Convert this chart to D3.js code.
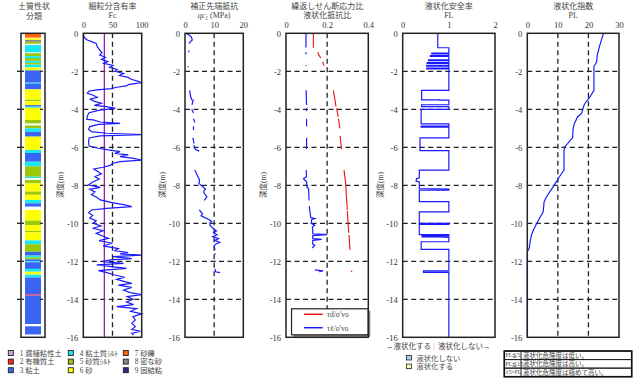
<!DOCTYPE html>
<html><head><meta charset="utf-8">
<script src="https://cdn.jsdelivr.net/npm/d3@7"></script>
<style>body{margin:0;background:#fff}</style>
</head><body><svg id="c" width="640" height="384"></svg>
<script>
// ---------------- DATA ----------------
const depthTicks = [0,2,4,6,8,10,12,14,16];
const depthGrid = [2,4,6,8,10,12,14];

// soil layers: [top, bottom, code]
const soilLayers = [
 [0,0.23,7],[0.27,0.35,6],[0.35,0.45,8],[0.45,0.55,5],[0.62,1.0,4],[1.05,1.2,5],[1.2,1.3,4],[1.3,1.45,5],
 [1.45,1.55,4],[1.55,1.65,5],[1.65,1.8,4],[1.8,1.95,6],[1.95,2.6,3],[2.6,2.65,4],[2.65,2.95,3],[2.95,3.5,6],
 [3.5,3.58,5],[3.58,3.78,6],[3.78,3.86,3],[3.86,3.92,4],[3.92,4.56,6],[4.56,4.74,5],[4.85,5.0,5],[5.0,5.18,4],
 [5.18,5.44,3],[5.44,6.14,6],[6.14,6.3,4],[6.3,6.76,3],[6.76,7.0,4],[7.0,7.55,5],[7.55,7.62,4],[7.72,7.9,5],
 [7.9,8.33,6],[8.33,8.5,5],[8.5,8.77,6],[8.77,8.95,4],[8.95,9.12,3],[9.3,9.86,6],[9.86,10.1,5],[10.1,10.4,6],
 [10.4,10.48,5],[10.48,10.9,6],[10.9,11.1,4],[11.1,11.5,5],[11.5,11.7,3],[11.7,11.8,4],[11.8,11.9,5],[11.9,12.0,3],
 [12.0,12.05,4],[12.05,12.4,3],[12.4,12.55,4],[12.55,12.7,6],[12.7,12.85,4],[12.85,13.74,3],[13.74,13.8,2],
 [13.8,15.3,3],[15.42,15.85,3]
];
const soilCodes = [1,2,3,4,5,6,7,8,9];
const soilNames = ["1 腐植粘性土","2 有機質土","3 粘土","4 粘土質ｼﾙﾄ","5 砂質ｼﾙﾄ","6 砂","7 砂礫","8 密な砂","9 固結粘"];
const soilColors = ["#c9a6e6","#ff2020","#3a64f2","#18e8f0","#9cc80a","#ffff00","#ff6410","#888888","#2a2a8a"];

// Fc: [depth, Fc]
const fcData = [
 [0,0],[0.14,1],[0.26,3],[0.35,7],[0.44,14],[0.53,22],[0.7,24],[0.88,28],[1.02,32],[1.14,28],[1.26,38],[1.37,31],
 [1.49,42],[1.58,35],[1.69,51],[1.79,45],[1.9,58],[2.0,54],[2.11,69],[2.22,62],[2.32,77],[2.42,82],[2.53,94],[2.6,99],
 [2.7,77],[2.77,74],[2.84,57],[2.91,48],[2.98,23],[3.05,9],[3.16,7],[3.26,17],[3.37,24],[3.47,12],[3.58,19],[3.68,31],
 [3.79,19],[3.86,39],[3.95,55],[4.04,28],[4.18,10],[4.35,7],[4.53,6],[4.56,17],[4.67,29],[4.74,63],[4.79,26],[4.91,11],
 [5.05,9],[5.18,14],[5.26,40],[5.33,100],[5.4,29],[5.51,10],[5.7,9],[5.93,10],[6.05,26],[6.14,43],[6.23,63],[6.32,54],
 [6.4,77],[6.49,63],[6.58,86],[6.67,100],[6.75,63],[6.84,51],[6.95,46],[7.05,34],[7.14,18],[7.26,24],[7.4,31],[7.54,20],
 [7.68,27],[7.83,16],[7.98,9],[8.11,29],[8.21,11],[8.35,20],[8.49,14],[8.63,23],[8.77,29],[8.91,49],[9.02,69],[9.12,83],
 [9.21,40],[9.3,14],[9.44,9],[9.58,16],[9.72,11],[9.86,22],[10.0,17],[10.14,30],[10.26,16],[10.39,34],[10.53,22],[10.67,33],
 [10.79,43],[10.91,27],[11.05,50],[11.19,34],[11.33,60],[11.44,54],[11.54,77],[11.61,63],[11.68,100],[11.75,51],[11.86,83],
 [11.93,46],[12.02,33],[12.11,69],[12.19,23],[12.28,49],[12.37,74],[12.49,26],[12.6,40],[12.72,54],[12.84,71],[12.95,57],
 [13.07,71],[13.16,83],[13.25,60],[13.37,83],[13.51,69],[13.65,80],[13.75,100],[13.86,75],[14.0,85],[14.14,74],[14.28,86],
 [14.39,57],[14.49,91],[14.63,81],[14.77,100],[14.91,85],[15.09,89],[15.26,83],[15.44,89],[15.58,83],[15.68,98],[15.79,83],[15.88,86]
];
const fcThreshold = 36;

// qc1 segments: [depth, qc1 (MPa)]
const qcSegments = [
 [[0,0.3],[0.1,1.5],[0.2,2.2],[0.35,2.5],[0.45,1.8],[0.55,1.4]],
 [[0.9,1.3],[1.0,1.3]],
 [[1.72,1.1],[1.78,1.1]],
 [[3.0,1.6],[3.3,1.9],[3.5,2.3],[3.52,2.8],[3.77,2.4]],
 [[4.0,2.3],[4.2,2.9]],
 [[4.5,2.9],[4.7,3.4]],
 [[4.9,2.9],[5.1,2.9]],
 [[5.5,2.7],[5.8,3.1]],
 [[5.9,3.1],[6.1,3.5],[6.2,4.9]],
 [[7.2,3.4],[7.4,4.0],[7.6,4.6],[7.7,5.0],[7.9,4.8],[8.0,5.5],[8.1,6.3],[8.2,7.0],[8.3,6.5],[8.4,6.5],[8.6,7.5],[8.8,6.6]],
 [[9.3,4.9],[9.5,6.0],[9.6,5.5],[9.7,6.8],[9.8,8.2],[9.9,9.1],[10.0,8.5],[10.1,8.6],[10.25,9.5],[10.4,10.8],[10.5,9.8],
  [10.6,11.0],[10.7,9.5],[10.8,11.5],[10.9,10.2],[11.0,11.9],[11.1,10.5],[11.2,10.0],[11.4,10.3]],
 [[11.58,10.3],[11.65,10.3]],
 [[11.98,10.3],[12.05,10.3]],
 [[12.4,10.3],[12.55,10.5],[12.6,12.0]]
];

// stress ratios: [depth, ratio]
const tdSegments = [
 [[0,0.133],[0.76,0.133]],
 [[1.0,0.154],[1.15,0.16],[1.3,0.169]],
 [[1.5,0.178],[1.7,0.185]],
 [[3.0,0.23],[3.5,0.238],[3.86,0.243]],
 [[3.95,0.246],[4.4,0.254]],
 [[4.5,0.255],[5.0,0.262]],
 [[5.4,0.263],[6.1,0.27]],
 [[7.2,0.282],[7.9,0.29],[8.5,0.293],[9.3,0.298]],
 [[9.35,0.298],[10.2,0.303],[10.5,0.305]],
 [[10.6,0.306],[11.4,0.311]],
 [[12.5,0.318],[12.56,0.32]]
];
const tlSegments = [
 [[0,0.097],[0.75,0.097]],
 [[1.0,0.097],[1.1,0.097]],
 [[1.68,0.097],[1.72,0.097]],
 [[3.0,0.098],[3.5,0.099],[3.77,0.1]],
 [[3.95,0.1],[4.1,0.1]],
 [[4.5,0.1],[4.9,0.1]],
 [[5.5,0.1],[6.1,0.1]],
 [[7.2,0.098],[7.55,0.1],[7.65,0.085],[7.72,0.09],[7.8,0.1],[8.1,0.102],[8.2,0.11],[8.8,0.112]],
 [[9.1,0.113],[9.5,0.118],[9.7,0.12],[9.75,0.14],[9.8,0.125],[10.0,0.122],[10.1,0.14],[10.2,0.128],[10.35,0.13],
  [10.55,0.13],[10.6,0.2],[10.65,0.13],[10.8,0.13],[10.85,0.173],[10.9,0.13],[11.1,0.13],[11.15,0.14],[11.3,0.128]],
 [[12.45,0.14],[12.5,0.18],[12.55,0.16]]
];

// FL: [depth, FL]
const flData = [
 [0,0.76],[0.76,0.76],[0.76,1],
 [1.04,1],[1.04,0.63],[1.08,0.63],[1.08,1],[1.18,1],[1.18,0.6],[1.22,0.6],[1.22,1],
 [1.4,1],[1.4,0.56],[1.44,0.56],[1.44,1],[1.54,1],[1.54,0.53],[1.58,0.53],[1.58,1],
 [1.69,1],[1.69,0.52],[1.73,0.52],[1.73,1],[1.83,1],[1.83,0.52],[1.87,0.52],[1.87,1],
 [3.0,1],[3.0,0.41],[3.5,0.41],[3.5,0.8],[3.52,0.8],[3.52,1],
 [3.76,1],[3.76,0.41],[3.86,0.41],[3.86,1],
 [4.0,1],[4.0,0.4],[4.77,0.4],[4.77,1],[4.88,1],[4.88,0.4],[4.94,0.4],[4.94,1],
 [5.5,1],[5.5,0.375],[6.18,0.375],[6.18,1],
 [7.2,1],[7.2,0.36],[7.6,0.36],[7.65,0.3],[7.78,0.29],[7.82,0.36],[8.18,0.36],[8.2,1],
 [8.26,1],[8.26,0.36],[8.86,0.36],[8.86,1],
 [9.4,1],[9.4,0.36],[10.0,0.36],[10.0,1],[10.06,1],[10.06,0.36],[10.6,0.36],[10.6,1],
 [10.66,1],[10.66,0.42],[10.72,0.42],[10.72,0.8],[10.74,1],
 [10.97,1],[10.97,0.4],[11.37,0.4],[11.37,1],
 [12.5,1],[12.5,0.45],[12.58,0.45],[12.58,1],[16,1]
];

// PL: [depth, PL]
const plData = [
 [0,24.9],[0.7,23.6],[1.14,22.9],[1.5,22.7],[1.75,21.8],[3.0,21.8],[3.35,20.5],[3.68,18.9],[3.77,18.6],[4.0,18.1],
 [4.21,17.8],[4.39,16.5],[4.74,15.4],[5.0,15.0],[5.5,14.8],[5.97,12.3],[6.18,12.0],[7.2,12.0],[7.55,10.5],[8.07,8.5],
 [8.6,6.3],[8.86,5.5],[9.39,5.2],[10.0,3.1],[10.35,2.0],[10.6,1.4],[10.97,0.9],[11.3,0.65],[11.5,0],[16,0]
];

const plTableLeft = ["PL≦5","PL≦15","15>PL"];
const plTableRight = ["液状化危険度は低い。","液状化危険度は高い。","液状化危険度は極めて高い。"];

// ---------------- DRAW ----------------
const svg = d3.select("#c");
const JP = "'Liberation Serif','Noto Sans CJK JP',serif";
const NUM = "'Liberation Serif','DejaVu Serif',serif";
const TXT = "#444";
const y = d3.scaleLinear().domain([0,16]).range([33.3,337.3]);
const depthFmt = v => v===0 ? "0" : "-"+v;

const panels = [
 {x0:83.3,x1:141.7,dom:[0,100],ticks:[0,50,100],grid:[50],t1:"細粒分含有率",t2:"Fc"},
 {x0:185,x1:243.3,dom:[0,20],ticks:[0,10,20],grid:[10],t1:"補正先端抵抗",t2:null},
 {x0:286,x1:368.3,dom:[0,0.4],ticks:[0,0.2,0.4],grid:[0.2],t1:"繰返しせん断応力比",t2:"液状化抵抗比",t2jp:true},
 {x0:402.7,x1:495,dom:[0,2],ticks:[0,1,2],grid:[],t1:"液状化安全率",t2:"FL"},
 {x0:527.3,x1:619,dom:[0,30],ticks:[0,10,20,30],grid:[10,20],t1:"液状化指数",t2:"PL",noYLabel:true}
];

panels.forEach((p,i)=>{
  p.x = d3.scaleLinear().domain(p.dom).range([p.x0,p.x1]);
  const g = svg.append("g");
  p.g = g;
  g.selectAll(".hg").data(depthGrid).join("line")
    .attr("x1",p.x0).attr("x2",p.x1).attr("y1",d=>y(d)).attr("y2",d=>y(d))
    .attr("stroke","#222").attr("stroke-width",1.3).attr("stroke-dasharray","5,3.5");
  g.selectAll(".vg").data(p.grid).join("line")
    .attr("x1",d=>p.x(d)).attr("x2",d=>p.x(d)).attr("y1",y(0)).attr("y2",y(16))
    .attr("stroke","#222").attr("stroke-width",1.3).attr("stroke-dasharray","5,3.5");
  const ax = g.append("g").attr("transform",`translate(0,${y(0)})`)
    .call(d3.axisTop(p.x).tickValues(p.ticks).tickSize(0).tickPadding(5.8).tickFormat(d=>String(d)));
  ax.select(".domain").remove();
  ax.selectAll("text").attr("font-family",NUM).attr("font-size",8.5).attr("fill","#333");
  const ay = g.append("g").attr("transform",`translate(${p.x0},0)`)
    .call(d3.axisLeft(y).tickValues(depthTicks).tickSize(0).tickPadding(5).tickFormat(depthFmt));
  ay.select(".domain").remove();
  ay.selectAll("text").attr("font-family",NUM).attr("font-size",8.5).attr("fill","#333");
  const cx = (p.x0+p.x1)/2;
  g.append("text").attr("x",cx).attr("y",9).attr("text-anchor","middle")
    .attr("font-family",JP).attr("font-size",8).attr("fill",TXT).text(p.t1);
  if(p.t2){
    g.append("text").attr("x",cx).attr("y",18).attr("text-anchor","middle")
      .attr("font-family",p.t2jp?JP:NUM).attr("font-size",8).attr("fill",TXT).text(p.t2);
  }
  if(!p.noYLabel){
    g.append("text").attr("transform",`translate(${p.x0-20},185) rotate(-90)`)
      .attr("text-anchor","middle").attr("font-family",JP).attr("font-size",7.5).attr("fill",TXT).text("深度(m)");
  }
});

// qc1 subtitle
{
  const p = panels[1], cx=(p.x0+p.x1)/2;
  const t = svg.append("text").attr("x",cx).attr("y",18).attr("text-anchor","middle")
    .attr("font-family",NUM).attr("font-size",8).attr("fill",TXT);
  t.append("tspan").attr("font-style","italic").text("qc");
  t.append("tspan").attr("font-size",5.5).attr("dy",1.5).attr("font-style","italic").text("1");
  t.append("tspan").attr("dy",-1.5).text(" (MPa)");
}

// Fc
{
  const p = panels[0];
  p.g.append("line").attr("x1",p.x(fcThreshold)).attr("x2",p.x(fcThreshold))
    .attr("y1",y(0)).attr("y2",y(16)).attr("stroke","#8a10a0").attr("stroke-width",1.2);
  p.g.append("path").datum(fcData)
    .attr("d",d3.line().x(d=>p.x(d[1])).y(d=>y(d[0])))
    .attr("fill","none").attr("stroke","#1a1aff").attr("stroke-width",1.2);
}
// qc
{
  const p = panels[1];
  p.g.selectAll(".qc").data(qcSegments).join("path")
    .attr("d",d3.line().x(d=>p.x(d[1])).y(d=>y(d[0])))
    .attr("fill","none").attr("stroke","#1a1aff").attr("stroke-width",1.2);
}
// ratios
{
  const p = panels[2];
  p.g.selectAll(".td").data(tdSegments).join("path")
    .attr("d",d3.line().x(d=>p.x(d[1])).y(d=>y(d[0])))
    .attr("fill","none").attr("stroke","#ee1010").attr("stroke-width",1.1);
  p.g.selectAll(".tl").data(tlSegments).join("path")
    .attr("d",d3.line().x(d=>p.x(d[1])).y(d=>y(d[0])))
    .attr("fill","none").attr("stroke","#1a1aff").attr("stroke-width",1.2);
  const lx0 = p.x(0.027), lx1 = p.x(0.4), ly0 = y(14.5), ly1 = y(15.87);
  p.g.append("rect").attr("x",lx0+2).attr("y",ly0+2).attr("width",lx1-lx0).attr("height",ly1-ly0).attr("fill","#888");
  p.g.append("rect").attr("x",lx0).attr("y",ly0).attr("width",lx1-lx0).attr("height",ly1-ly0)
    .attr("fill","#fff").attr("stroke","#222").attr("stroke-width",1.2);
  const items = [["#ee1010","τd/σ'vo"],["#1a1aff","τℓ/σ'vo"]];
  items.forEach((it,k)=>{
    const yy = ly0 + 5.5 + k*13.4;
    p.g.append("line").attr("x1",304).attr("x2",322.7).attr("y1",yy).attr("y2",yy).attr("stroke",it[0]).attr("stroke-width",1.5);
    p.g.append("text").attr("x",327).attr("y",yy+2.8).attr("font-family",NUM).attr("font-size",7.5).attr("fill",TXT).text(it[1]);
  });
}
// FL
{
  const p = panels[3];
  p.g.append("path").datum(flData)
    .attr("d",d3.line().x(d=>p.x(d[1])).y(d=>y(d[0])))
    .attr("fill","none").attr("stroke","#1a1aff").attr("stroke-width",1.2);
  const by = 348.5;
  svg.append("text").attr("x",431).attr("y",by).attr("text-anchor","end").attr("font-family",JP).attr("font-size",7.5).attr("fill",TXT).text("←液状化する");
  svg.append("text").attr("x",434).attr("y",by).attr("text-anchor","middle").attr("font-family",JP).attr("font-size",7.5).attr("fill","#f080b0").text("|");
  svg.append("text").attr("x",438).attr("y",by).attr("font-family",JP).attr("font-size",7.5).attr("fill",TXT).text("液状化しない→");
  const lg = [["#a8d8f0","液状化しない"],["#ffffa8","液状化する"]];
  lg.forEach((it,k)=>{
    svg.append("rect").attr("x",406.5).attr("y",355.5+k*8.6).attr("width",5).attr("height",4.5)
      .attr("fill",it[0]).attr("stroke","#333").attr("stroke-width",0.9);
    svg.append("text").attr("x",416.5).attr("y",360.6+k*8.6).attr("font-family",JP).attr("font-size",7.3).attr("fill",TXT).text(it[1]);
  });
}
// PL
{
  const p = panels[4];
  p.g.append("path").datum(plData)
    .attr("d",d3.line().x(d=>p.x(d[1])).y(d=>y(d[0])))
    .attr("fill","none").attr("stroke","#1a1aff").attr("stroke-width",1.2);
  const tx0=504.3, tx1=631.7, ty0=351, rh=8.57, cdiv=521;
  plTableLeft.forEach((s,k)=>{
    svg.append("rect").attr("x",tx0).attr("y",ty0+k*rh).attr("width",tx1-tx0).attr("height",rh)
      .attr("fill","none").attr("stroke","#222").attr("stroke-width",1);
    svg.append("text").attr("x",tx0+1.2).attr("y",ty0+k*rh+6.3).attr("font-family",NUM).attr("font-size",5.8).attr("fill",TXT).text(s);
    svg.append("text").attr("x",cdiv+2).attr("y",ty0+k*rh+6.5).attr("font-family",JP).attr("font-size",6.5).attr("fill",TXT).text(plTableRight[k]);
  });
  svg.append("line").attr("x1",cdiv).attr("x2",cdiv).attr("y1",ty0).attr("y2",ty0+3*rh).attr("stroke","#222").attr("stroke-width",1);
  svg.append("rect").attr("x",tx0).attr("y",ty0).attr("width",tx1-tx0).attr("height",3*rh)
    .attr("fill","none").attr("stroke","#111").attr("stroke-width",1.6);
}

// frames
panels.forEach(p=>{
  p.g.append("rect").attr("x",p.x0).attr("y",y(0)).attr("width",p.x1-p.x0).attr("height",y(16)-y(0))
    .attr("fill","none").attr("stroke","#222").attr("stroke-width",1.5);
});

// soil column
{
  const g = svg.append("g");
  const cx0=25, cx1=41;
  g.selectAll("rect.l").data(soilLayers).join("rect")
    .attr("x",cx0).attr("width",cx1-cx0)
    .attr("y",d=>y(d[0])).attr("height",d=>Math.max(0.8,y(d[1])-y(d[0])))
    .attr("fill",d=>soilColors[soilCodes.indexOf(d[2])]);
  g.append("rect").attr("x",21).attr("y",y(0)).attr("width",24).attr("height",y(16)-y(0))
    .attr("fill","none").attr("stroke","#222").attr("stroke-width",1.5);
  g.selectAll(".tl").data(depthTicks.slice(1,-1)).join("line")
    .attr("x1",17).attr("x2",24).attr("y1",d=>y(d)).attr("y2",d=>y(d)).attr("stroke","#222").attr("stroke-width",1.3);
  g.selectAll(".tr").data(depthTicks.slice(1,-1)).join("line")
    .attr("x1",40).attr("x2",43).attr("y1",d=>y(d)).attr("y2",d=>y(d)).attr("stroke","#222").attr("stroke-width",1.2);
  g.append("text").attr("x",34).attr("y",9).attr("text-anchor","middle").attr("font-family",JP).attr("font-size",8).attr("fill",TXT).text("土質性状");
  g.append("text").attr("x",34).attr("y",18.5).attr("text-anchor","middle").attr("font-family",JP).attr("font-size",8).attr("fill",TXT).text("分類");
  const colX = [8.3,68.3,123.3];
  soilNames.forEach((nm,k)=>{
    const c = Math.floor(k/3), r = k%3;
    const yy = 350.5 + r*8.6;
    g.append("rect").attr("x",colX[c]).attr("y",yy).attr("width",5).attr("height",5)
      .attr("fill",soilColors[k]).attr("stroke","#222").attr("stroke-width",0.9);
    g.append("text").attr("x",colX[c]+11.5).attr("y",yy+5.2).attr("font-family",JP).attr("font-size",7.3).attr("fill",TXT).text(nm);
  });
}
</script></body></html>
